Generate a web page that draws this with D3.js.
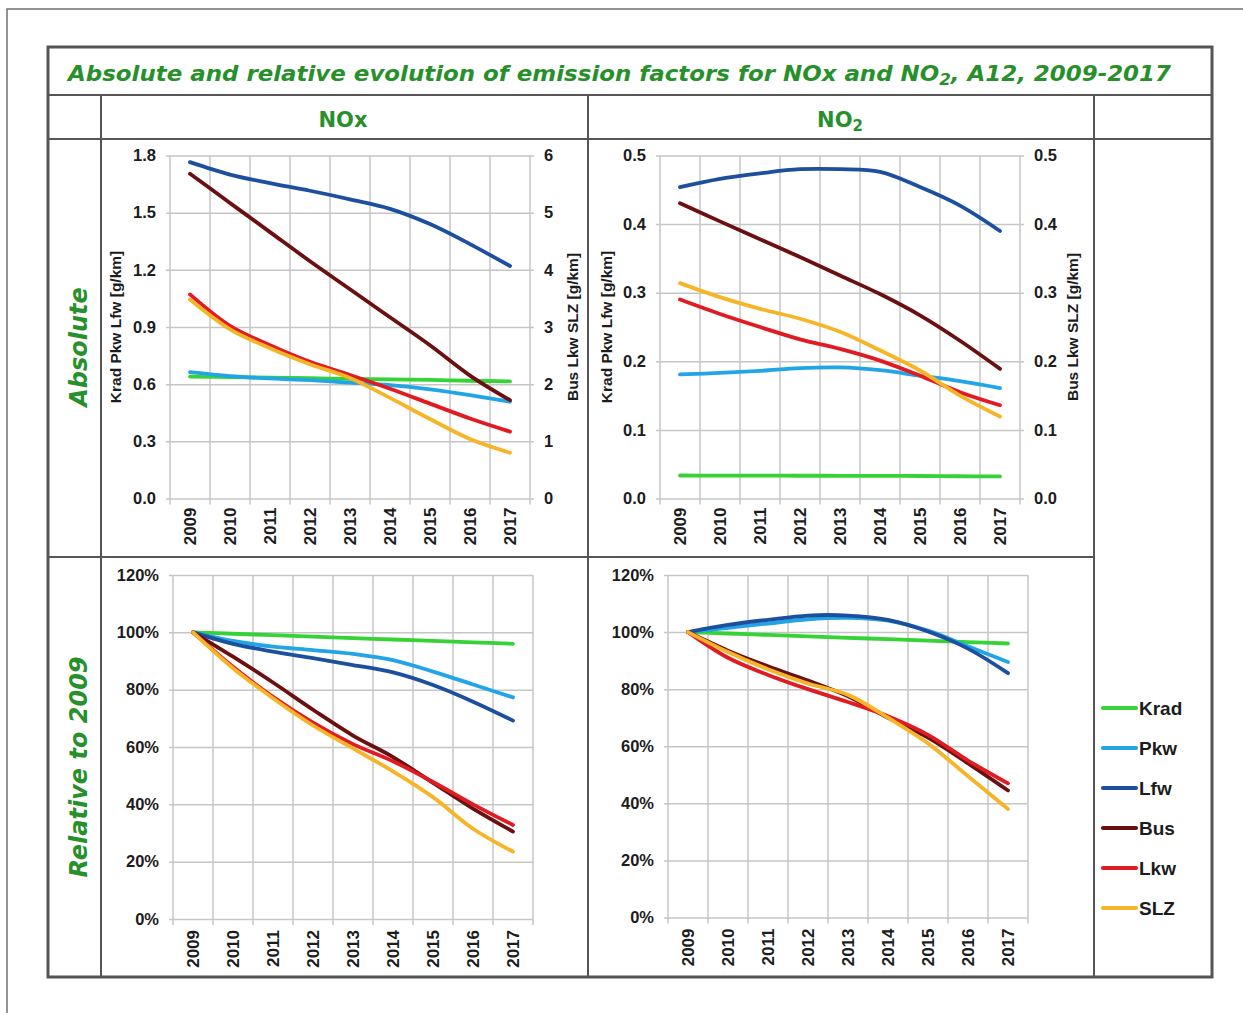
<!DOCTYPE html>
<html>
<head>
<meta charset="utf-8">
<script src="https://cdn.jsdelivr.net/npm/d3@7"></script>
<style>
  body { margin: 0; background: #fff; }
  svg { display: block; }
  .tick text, .lbl { font-family: "Liberation Sans", Arial, sans-serif; font-weight: bold; fill: #1c1c1c; }
</style>
</head>
<body>
<svg id="chart" width="1243" height="1013"></svg>
<script>
// ---- categories and series ----
const years = ["2009", "2010", "2011", "2012", "2013", "2014", "2015", "2016", "2017"];
const seriesNames = ["Krad", "Pkw", "Lfw", "Bus", "Lkw", "SLZ"];
const seriesColors = ["#35d335", "#22a5e6", "#1d4f9f", "#6b1010", "#e11b22", "#f6b427"];

// NOx, absolute [g/km]  (Krad/Pkw/Lfw left axis, Bus/Lkw/SLZ right axis)
const noxAbsKrad = [0.640, 0.637, 0.634, 0.631, 0.628, 0.625, 0.622, 0.618, 0.615];
const noxAbsPkw  = [0.663, 0.642, 0.630, 0.621, 0.608, 0.595, 0.573, 0.543, 0.508];
const noxAbsLfw  = [1.765, 1.700, 1.655, 1.615, 1.570, 1.520, 1.440, 1.335, 1.220];
const noxAbsBus  = [5.68, 5.17, 4.66, 4.15, 3.66, 3.17, 2.68, 2.15, 1.72];
const noxAbsLkw  = [3.57, 3.02, 2.68, 2.39, 2.16, 1.92, 1.66, 1.40, 1.17];
const noxAbsSLZ  = [3.48, 2.96, 2.63, 2.35, 2.11, 1.76, 1.39, 1.04, 0.80];

// NO2, absolute [g/km]
const no2AbsKrad = [0.0335, 0.0334, 0.0333, 0.0332, 0.0331, 0.0330, 0.0328, 0.0324, 0.0322];
const no2AbsPkw  = [0.181, 0.183, 0.186, 0.190, 0.191, 0.187, 0.179, 0.171, 0.161];
const no2AbsLfw  = [0.454, 0.466, 0.474, 0.480, 0.480, 0.476, 0.454, 0.427, 0.390];
const no2AbsBus  = [0.4305, 0.404, 0.378, 0.352, 0.325, 0.298, 0.267, 0.230, 0.189];
const no2AbsLkw  = [0.290, 0.269, 0.250, 0.232, 0.218, 0.201, 0.179, 0.155, 0.136];
const no2AbsSLZ  = [0.314, 0.2935, 0.2765, 0.262, 0.243, 0.216, 0.1866, 0.150, 0.1195];

// NOx, relative to 2009 [%]
const noxRelKrad = [100, 99.5, 99, 98.5, 98, 97.5, 97, 96.5, 96];
const noxRelPkw  = [100, 97, 95, 93.8, 92.5, 90.3, 86.3, 81.8, 77.3];
const noxRelLfw  = [100, 96, 93.3, 91, 88.6, 86, 81.6, 75.8, 69.2];
const noxRelBus  = [100, 91.5, 82.5, 73, 64, 56.5, 47.5, 38.5, 30.5];
const noxRelLkw  = [100, 88, 77.5, 68.5, 61, 55, 47.8, 40, 32.8];
const noxRelSLZ  = [100, 87.5, 77, 67.5, 59.5, 51.5, 42.5, 31.5, 23.5];

// NO2, relative to 2009 [%]
const no2RelKrad = [100, 99.5, 99, 98.5, 98, 97.5, 97, 96.5, 96];
const no2RelPkw  = [100, 101.5, 103, 104.5, 105, 104, 100.5, 95, 89.5];
const no2RelLfw  = [100, 102.5, 104.3, 105.8, 105.8, 104.3, 100.2, 94.2, 85.6];
const no2RelBus  = [100, 93.5, 88, 83, 77.5, 70, 63, 54, 44.5];
const no2RelLkw  = [100, 91, 85, 80, 75.5, 70.5, 64, 55, 47];
const no2RelSLZ  = [100, 93, 87, 82, 78, 70, 61, 49.5, 38];

// tick values
const noxLeftTicks  = [0, 0.3, 0.6, 0.9, 1.2, 1.5, 1.8];
const noxRightTicks = [0, 1, 2, 3, 4, 5, 6];
const no2Ticks      = [0, 0.1, 0.2, 0.3, 0.4, 0.5];
const relTicks      = [0, 20, 40, 60, 80, 100, 120];

// ---- drawing ----
const svg = d3.select("#chart");
const titleGreen = "#27902a";
const gridColor = "#c6c6c6";
const tableStroke = "#555";
const tickFont = 16.5;

// outer frame
svg.append("rect").attr("x", 7).attr("y", 9).attr("width", 1300).attr("height", 1100)
  .attr("fill", "none").attr("stroke", "#707070").attr("stroke-width", 1.5);

// table grid
const tbl = svg.append("g").attr("stroke", tableStroke).attr("fill", "none");
tbl.append("rect").attr("x", 48).attr("y", 47).attr("width", 1164).attr("height", 930)
  .attr("stroke-width", 3);
[[48, 95, 1212, 95], [48, 139, 1212, 139], [48, 557, 1094, 557],
 [101, 95, 101, 977], [588, 95, 588, 977], [1094, 95, 1094, 977]]
  .forEach(([a, b, c, d]) => tbl.append("line").attr("x1", a).attr("y1", b).attr("x2", c).attr("y2", d)
    .attr("stroke-width", 2));

// title
const title = svg.append("text").attr("x", 68).attr("y", 81)
  .attr("font-family", "'DejaVu Sans', Verdana, sans-serif").attr("font-weight", "bold")
  .attr("font-style", "italic").attr("font-size", 22).attr("fill", titleGreen)
  .attr("textLength", 1103).attr("lengthAdjust", "spacingAndGlyphs");
title.append("tspan").text("Absolute and relative evolution of emission factors for NOx and NO");
title.append("tspan").attr("baseline-shift", "-22%").attr("font-size", 16).text("2");
title.append("tspan").text(", A12, 2009-2017");

// column headers
function header(x, main, sub) {
  const t = svg.append("text").attr("x", x).attr("y", 127).attr("text-anchor", "middle")
    .attr("font-family", "'DejaVu Sans', Verdana, sans-serif").attr("font-weight", "bold")
    .attr("font-size", 21).attr("fill", titleGreen);
  t.append("tspan").text(main);
  if (sub) t.append("tspan").attr("baseline-shift", "-25%").attr("font-size", 15).text(sub);
}
header(343, "NOx");
header(840, "NO", "2");

// row labels
function rowLabel(cy, txt) {
  svg.append("text").attr("transform", `translate(87,${cy}) rotate(-90)`).attr("text-anchor", "middle")
    .attr("font-family", "'DejaVu Sans', Verdana, sans-serif").attr("font-weight", "bold")
    .attr("font-style", "italic").attr("font-size", 24).attr("fill", titleGreen).text(txt);
}
rowLabel(347, "Absolute");
rowLabel(767, "Relative to 2009");

function drawPanel(p) {
  const g = svg.append("g");
  const x = d3.scaleBand().domain(years).range([p.x0, p.x1]);
  const yL = d3.scaleLinear().domain(p.leftDomain).range([p.yBot, p.yTop]);
  const yR = p.rightDomain ? d3.scaleLinear().domain(p.rightDomain).range([p.yBot, p.yTop]) : null;
  const w = p.x1 - p.x0;

  // vertical gridlines on category boundaries, extending below as tick marks
  const bounds = years.map(v => x(v)).concat([p.x1]);
  g.append("g").selectAll("line").data(bounds).join("line")
    .attr("x1", d => d).attr("x2", d => d).attr("y1", p.yTop).attr("y2", p.yBot + 6)
    .attr("stroke", gridColor).attr("stroke-width", 1.5);

  // left value axis with horizontal gridlines
  const axL = g.append("g").attr("transform", `translate(${p.x0},0)`)
    .call(d3.axisLeft(yL).tickValues(p.leftTicks).tickFormat(p.leftFmt)
      .tickSizeInner(-w).tickSizeOuter(0).tickPadding(14));
  axL.select(".domain").remove();
  axL.selectAll(".tick line").attr("x1", -4).attr("x2", yR ? w + 4 : w)
    .attr("stroke", gridColor).attr("stroke-width", 1.5);
  axL.selectAll(".tick text").attr("font-size", tickFont).attr("fill", "#1c1c1c");

  if (yR) {
    const axR = g.append("g").attr("transform", `translate(${p.x1},0)`)
      .call(d3.axisRight(yR).tickValues(p.rightTicks).tickFormat(p.rightFmt)
        .tickSize(0).tickPadding(14));
    axR.select(".domain").remove();
    axR.selectAll(".tick text").attr("font-size", tickFont).attr("fill", "#1c1c1c");
  }

  // category axis with vertical year labels
  const axX = g.append("g").attr("transform", `translate(0,${p.yBot})`)
    .call(d3.axisBottom(x).tickSize(0).tickPadding(0));
  axX.select(".domain").remove();
  axX.selectAll(".tick text").attr("transform", "rotate(-90)").attr("text-anchor", "end")
    .attr("x", -p.labelGap).attr("y", 0).attr("dy", "0.36em")
    .attr("font-size", 17).attr("fill", "#1c1c1c");

  // axis titles
  if (p.leftTitle) {
    g.append("text").attr("class", "lbl").attr("font-size", 15.5)
      .attr("transform", `translate(${p.leftTitleX},${(p.yTop + p.yBot) / 2}) rotate(-90)`)
      .attr("text-anchor", "middle").text(p.leftTitle);
  }
  if (p.rightTitle) {
    g.append("text").attr("class", "lbl").attr("font-size", 15.5)
      .attr("transform", `translate(${p.rightTitleX},${(p.yTop + p.yBot) / 2}) rotate(-90)`)
      .attr("text-anchor", "middle").text(p.rightTitle);
  }

  // series lines
  p.series.forEach((s, i) => {
    const sc = s.right ? yR : yL;
    const line = d3.line()
      .x((d, j) => x(years[j]) + x.bandwidth() / 2)
      .y(d => sc(d))
      .curve(d3.curveCatmullRom.alpha(0.5));
    g.append("path").datum(s.values).attr("d", line)
      .attr("fill", "none").attr("stroke", seriesColors[i]).attr("stroke-width", 3.8)
      .attr("stroke-linecap", "round").attr("stroke-linejoin", "round");
  });
}

const f1 = d3.format(".1f");
const fInt = d3.format("d");
const fPct = d => d + "%";

drawPanel({
  x0: 170, x1: 530, yTop: 155.5, yBot: 498.5, labelGap: 9,
  leftDomain: [0, 1.8], leftTicks: noxLeftTicks, leftFmt: f1,
  rightDomain: [0, 6], rightTicks: noxRightTicks, rightFmt: fInt,
  leftTitle: "Krad Pkw Lfw [g/km]", leftTitleX: 121,
  rightTitle: "Bus Lkw SLZ [g/km]", rightTitleX: 578,
  series: [
    { values: noxAbsKrad }, { values: noxAbsPkw }, { values: noxAbsLfw },
    { values: noxAbsBus, right: true }, { values: noxAbsLkw, right: true }, { values: noxAbsSLZ, right: true }
  ]
});

drawPanel({
  x0: 660, x1: 1020, yTop: 155.5, yBot: 498.5, labelGap: 9,
  leftDomain: [0, 0.5], leftTicks: no2Ticks, leftFmt: f1,
  rightDomain: [0, 0.5], rightTicks: no2Ticks, rightFmt: f1,
  leftTitle: "Krad Pkw Lfw [g/km]", leftTitleX: 612,
  rightTitle: "Bus Lkw SLZ [g/km]", rightTitleX: 1078,
  series: [
    { values: no2AbsKrad }, { values: no2AbsPkw }, { values: no2AbsLfw },
    { values: no2AbsBus, right: true }, { values: no2AbsLkw, right: true }, { values: no2AbsSLZ, right: true }
  ]
});

drawPanel({
  x0: 173, x1: 533, yTop: 575, yBot: 919, labelGap: 11,
  leftDomain: [0, 120], leftTicks: relTicks, leftFmt: fPct,
  series: [
    { values: noxRelKrad }, { values: noxRelPkw }, { values: noxRelLfw },
    { values: noxRelBus }, { values: noxRelLkw }, { values: noxRelSLZ }
  ]
});

drawPanel({
  x0: 668, x1: 1028, yTop: 575, yBot: 917.5, labelGap: 11,
  leftDomain: [0, 120], leftTicks: relTicks, leftFmt: fPct,
  series: [
    { values: no2RelKrad }, { values: no2RelPkw }, { values: no2RelLfw },
    { values: no2RelBus }, { values: no2RelLkw }, { values: no2RelSLZ }
  ]
});

// legend
const legendTop = 708, legendStep = 40;
const lg = svg.append("g");
seriesNames.forEach((name, i) => {
  const yy = legendTop + i * legendStep;
  lg.append("line").attr("x1", 1103).attr("x2", 1136).attr("y1", yy).attr("y2", yy)
    .attr("stroke", seriesColors[i]).attr("stroke-width", 4.2).attr("stroke-linecap", "round");
  lg.append("text").attr("class", "lbl").attr("x", 1139).attr("y", yy).attr("dy", "0.36em")
    .attr("font-size", 19).text(name);
});
</script>
</body>
</html>
